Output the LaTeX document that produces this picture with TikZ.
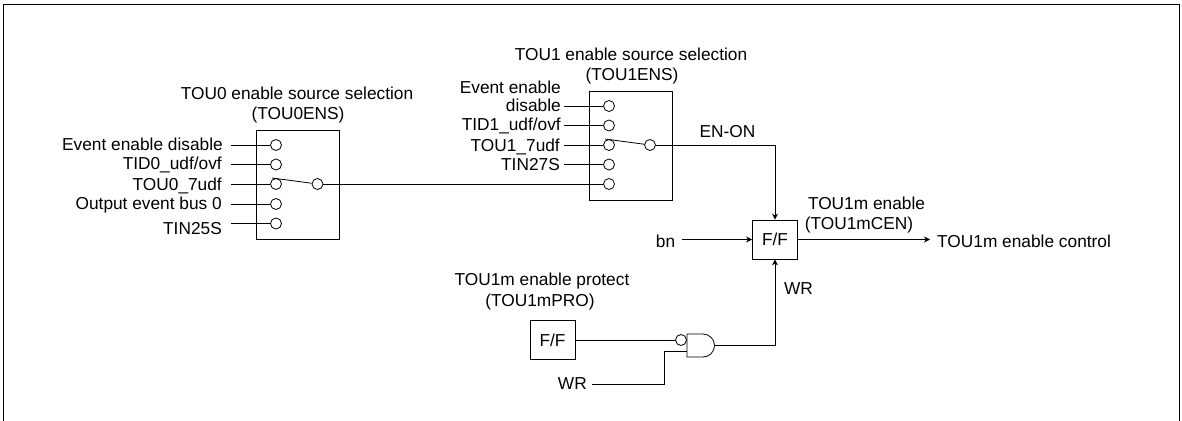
\documentclass[tikz,border=0pt]{standalone}
\usepackage{fontspec}
\setmainfont{Liberation Sans}
\usetikzlibrary{arrows.meta}

\begin{document}
\begin{tikzpicture}[
    x=1pt, y=-1pt,
    every node/.style={font=\fontsize{17.3}{18}\selectfont, inner sep=0pt},
    frame/.style={line width=1pt},
    selbox/.style={draw, line width=0.8pt, minimum width=83pt, minimum height=109pt},
    ffbox/.style={draw, line width=0.8pt, minimum width=45pt, minimum height=39pt},
    pin/.style={circle, draw, line width=0.8pt, minimum size=11pt},
    inlabel/.style={anchor=east},
    wire/.style={line width=0.8pt},
    sig/.style={line width=0.8pt, -{Stealth[length=6pt, width=6pt]}}
]
\useasboundingbox (0,0) rectangle (1182,420);
\draw[frame] (3,421) -- (3,4.5) -- (1179,4.5) -- (1179,421);

% TOU0 selector
\node[selbox] (sel0) at (297.5,184.5) {};
\node (sel0title) at (297,93) {TOU0 enable source selection};
\node (sel0reg) at (298,115) {(TOU0ENS)};
\node[pin] (p0a) at (276,145) {}; \node[pin] (p0b) at (276,164.5) {};
\node[pin] (p0c) at (276,184) {}; \node[pin] (p0d) at (276,204) {};
\node[pin] (p0e) at (276,223.5) {}; \node[pin] (p0out) at (317.5,184) {};
\node[inlabel] (l0a) at (223,144) {Event enable disable};
\node[inlabel] (l0b) at (222,165) {TID0\_udf/ovf};
\node[inlabel] (l0c) at (222,186) {TOU0\_7udf};
\node[inlabel] (l0d) at (222,205) {Output event bus 0};
\node[inlabel] (l0e) at (222,229) {TIN25S};
\coordinate (c0a) at (231,145); \coordinate (c0b) at (231,164.5);
\coordinate (c0c) at (231,184); \coordinate (c0d) at (231,204);
\coordinate (c0e) at (231,223.5); \coordinate (c0arm) at (272,178);
\draw[wire] (c0a) -- (p0a); \draw[wire] (c0b) -- (p0b); \draw[wire] (c0c) -- (p0c);
\draw[wire] (c0d) -- (p0d); \draw[wire] (c0e) -- (p0e);
\draw[wire] (c0arm) -- (p0out);

% TOU1 selector
\node[selbox] (sel1) at (630.5,145.5) {};
\node (sel1title) at (631,54) {TOU1 enable source selection};
\node (sel1reg) at (632,76) {(TOU1ENS)};
\node[pin] (p1a) at (609,106) {}; \node[pin] (p1b) at (609,125.5) {};
\node[pin] (p1c) at (609,145) {}; \node[pin] (p1d) at (609,164.5) {};
\node[pin] (p1e) at (609,184) {}; \node[pin] (p1out) at (650,145) {};
\node[inlabel, align=right] (l1a) at (561,96) {Event enable\\disable};
\node[inlabel] (l1b) at (561,126) {TID1\_udf/ovf};
\node[inlabel] (l1c) at (560,147) {TOU1\_7udf};
\node[inlabel] (l1d) at (560,165) {TIN27S};
\coordinate (c1a) at (564,106); \coordinate (c1b) at (564,125.5);
\coordinate (c1c) at (564,145); \coordinate (c1d) at (564,164.5);
\coordinate (c1arm) at (605,139);
\draw[wire] (c1a) -- (p1a); \draw[wire] (c1b) -- (p1b); \draw[wire] (c1c) -- (p1c);
\draw[wire] (c1d) -- (p1d);
\draw[wire] (c1arm) -- (p1out);
\draw[wire] (p0out) -- (p1e);

% enable flip-flop
\node[ffbox] (cen) at (775,239.5) {F/F};
\node (enon) at (727.5,132) {EN-ON};
\node (bn) at (665.5,241) {bn};
\node (cenname) at (866.5,203) {TOU1m enable};
\node (cenreg) at (859,225) {(TOU1mCEN)};
\node[anchor=west] (ctrl) at (937,241) {TOU1m enable control};
\node (wrup) at (798.5,289) {WR};
\coordinate (cbn) at (682,239.5); \coordinate (cctrl) at (930,239.5);
\draw[sig] (p1out) -| (cen);
\draw[sig] (cbn) -- (cen);
\draw[sig] (cen) -- (cctrl);

% protect flip-flop and gate
\node[ffbox] (pro) at (552.5,340) {F/F};
\node (proname) at (542,281) {TOU1m enable protect};
\node (proreg) at (540,302) {(TOU1mPRO)};
\node[pin] (bub) at (681,340) {};
\node[anchor=east] (wrlow) at (587,384) {WR};
\coordinate (gnw) at (687,334); \coordinate (gsw) at (687,357);
\coordinate (gin) at (687,351); \coordinate (gout) at (714.5,345.5);
\coordinate (cwr) at (592,384); \coordinate (cbend) at (664,384);
\draw[wire] (gnw) -- ++(16,0) arc[start angle=90, end angle=-90, x radius=11.5, y radius=-11.5] -- (gsw) -- cycle;
\draw[wire] (pro) -- (bub);
\draw[wire] (cwr) -- (cbend) |- (gin);
\draw[sig] (gout) -| (cen);
\end{tikzpicture}
\end{document}
